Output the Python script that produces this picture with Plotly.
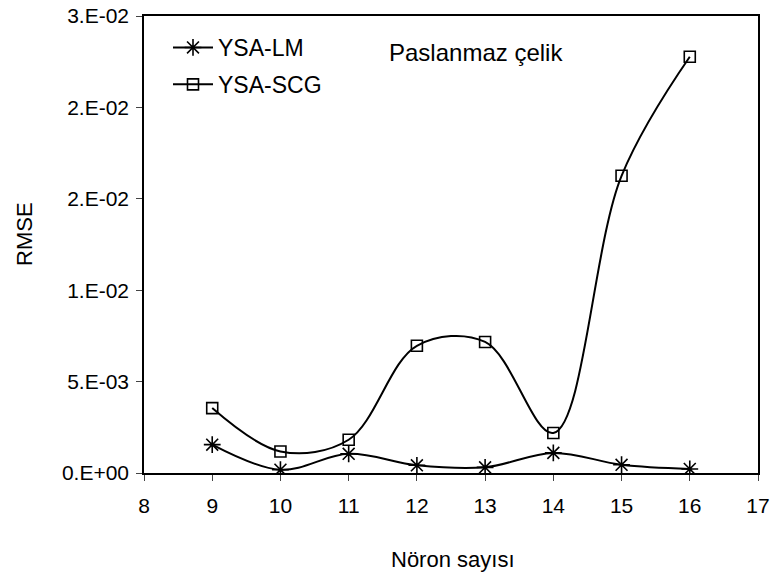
import plotly.graph_objects as go

neurons = [9, 10, 11, 12, 13, 14, 15, 16]
lm_rmse = [0.00155, 0.00018, 0.00105, 0.00042, 0.00031, 0.00110, 0.00045, 0.00022]
scg_rmse = [0.00355, 0.00118, 0.00182, 0.00696, 0.00717, 0.00219, 0.01626, 0.02277]

y_tickvals = [0, 0.005, 0.01, 0.015, 0.02, 0.025]
y_ticktext = ["0.E+00", "5.E-03", "1.E-02", "2.E-02", "2.E-02", "3.E-02"]
x_tickvals = [8, 9, 10, 11, 12, 13, 14, 15, 16, 17]

FAM = "Liberation Sans, Arial, sans-serif"
tick_font = dict(family=FAM, size=21, color="black")
title_font = dict(family=FAM, size=22, color="black")
legend_font = dict(family=FAM, size=23, color="black")
note_font = dict(family=FAM, size=24, color="black")

fig = go.Figure()
fig.add_trace(go.Scatter(
    x=neurons, y=lm_rmse, name="YSA-LM", mode="lines+markers", legendgroup="a",
    line=dict(color="black", width=2, shape="spline", smoothing=1),
    marker=dict(symbol="asterisk-open", size=14, color="black", line=dict(color="black", width=1.6)),
))
fig.add_trace(go.Scatter(
    x=neurons, y=scg_rmse, name="YSA-SCG", mode="lines+markers", legendgroup="b",
    line=dict(color="black", width=2, shape="spline", smoothing=1),
    marker=dict(symbol="square-open", size=11, color="black", line=dict(color="black", width=1.6)),
))

W, H = 772, 576
PX0, PX1, PY0, PY1 = 144, 758, 16, 473  # plot area in page pixels
L, R, T, B = PX0, W - PX1, PY0, H - PY1
PW, PH = PX1 - PX0, PY1 - PY0


def px(x):
    return (x - PX0) / PW


def py(y):
    return (PY1 - y) / PH


fig.add_annotation(text="Paslanmaz çelik", xref="paper", yref="paper",
                   x=px(476), y=py(52), xanchor="center", yanchor="middle",
                   showarrow=False, font=note_font)
fig.add_annotation(text="Nöron sayısı", xref="paper", yref="paper",
                   x=px(453), y=py(559), xanchor="center", yanchor="middle",
                   showarrow=False, font=title_font)
fig.add_annotation(text="RMSE", xref="paper", yref="paper", textangle=-90,
                   x=px(24), y=py(234), xanchor="center", yanchor="middle",
                   showarrow=False, font=title_font)

fig.update_layout(
    width=W, height=H,
    margin=dict(l=L, r=R, t=T, b=B),
    paper_bgcolor="white", plot_bgcolor="white",
    font=tick_font,
    showlegend=True,
    legend=dict(x=px(168), y=py(26), xanchor="left", yanchor="top",
                bgcolor="rgba(0,0,0,0)", font=legend_font, itemwidth=40,
                traceorder="grouped", tracegroupgap=4),
    xaxis=dict(range=[8, 17], tickvals=x_tickvals, ticks="outside", ticklen=6, tickwidth=1,
               showline=True, linecolor="black", linewidth=1.5, mirror=True, showgrid=False,
               zeroline=False, tickfont=tick_font, automargin=False, ticklabelstandoff=7),
    yaxis=dict(range=[0, 0.025], tickvals=y_tickvals, ticktext=y_ticktext, ticks="outside",
               ticklen=6, tickwidth=1, showline=True, linecolor="black", linewidth=1.5,
               mirror=True, showgrid=False, zeroline=False, tickfont=tick_font, automargin=False,
               ticklabelstandoff=3),
)

fig.write_html("out.html", config={"displayModeBar": False},
               post_script="document.body.style.margin='0px';")
